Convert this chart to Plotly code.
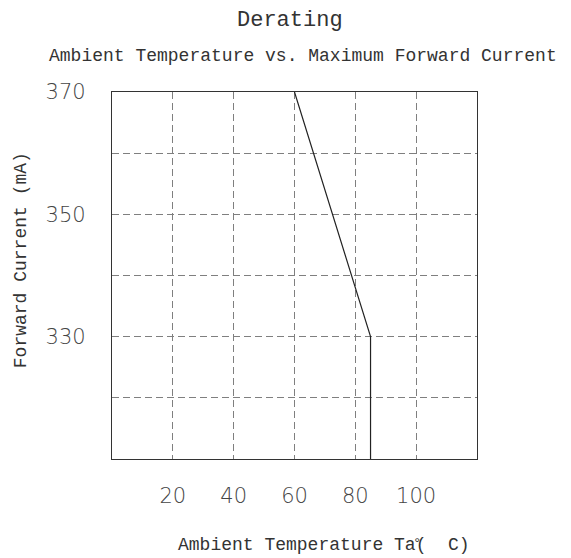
import plotly.graph_objects as go

temps = [60, 85, 85]
currents = [370, 330, 310]

x_tickvals = [20, 40, 60, 80, 100]
x_ticktext = ["20", "40", "60", "80", "100"]
y_tickvals = [320, 330, 340, 350, 360, 370]
y_ticktext = ["", "330", "", "350", "", "370"]

title_text = "Derating"
subtitle_text = "Ambient Temperature vs. Maximum Forward Current"
x_title = "Ambient Temperature Ta(  C)"
y_title = "Forward Current (mA)"

serif = "Liberation Mono"
tickfont = dict(family="DejaVu Sans", size=21, color="#444444", weight=200)

fig = go.Figure()
fig.add_trace(go.Scatter(x=temps, y=currents, mode="lines",
                         line=dict(color="#222222", width=1.2),
                         showlegend=False, hoverinfo="skip"))

axis_common = dict(showgrid=True, gridcolor="#7f7f7f", gridwidth=1.2, griddash="7px,4px",
                   showline=True, linecolor="#333333", linewidth=1.2, mirror=True,
                   ticks="", zeroline=False, tickfont=tickfont)

fig.update_xaxes(range=[0, 120], tickmode="array", tickvals=x_tickvals, ticktext=x_ticktext,
                 ticklabelstandoff=18, **axis_common)
fig.update_yaxes(range=[310, 370], tickmode="array", tickvals=y_tickvals, ticktext=y_ticktext,
                 ticklabelstandoff=21, **axis_common)

anns = [
    dict(text=title_text, x=0.487, y=1.195, font=dict(family=serif, size=22, color="#333333")),
    dict(text=subtitle_text, x=0.523, y=1.098, font=dict(family=serif, size=18, color="#333333")),
    dict(text=x_title, x=0.58, y=-0.234, font=dict(family=serif, size=18, color="#333333")),
    dict(text=y_title, x=-0.249, y=0.542, textangle=-90, font=dict(family=serif, size=18, color="#333333")),
]
for a in anns:
    fig.add_annotation(xref="paper", yref="paper", showarrow=False, xanchor="center", yanchor="middle", **a)
# small degree mark overlapping "Ta"
fig.add_annotation(xref="paper", yref="paper", showarrow=False, text="°", x=0.835, y=-0.232,
                   xanchor="center", yanchor="middle",
                   font=dict(family=serif, size=14, color="#333333"))

fig.update_layout(width=563, height=550, margin=dict(l=104, r=94, t=84, b=99),
                  plot_bgcolor="white", paper_bgcolor="white")
fig.write_html("out.html")
